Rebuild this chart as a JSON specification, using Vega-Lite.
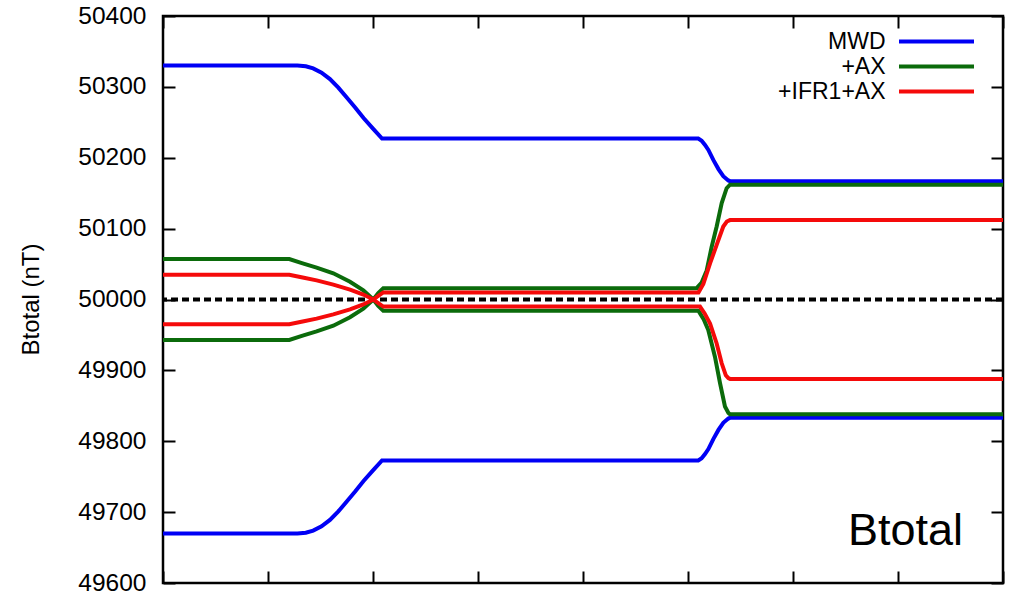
{
  "$schema": "https://vega.github.io/schema/vega-lite/v6.json",
  "autosize": {"type": "none"},
  "padding": {"left": 163, "top": 16, "right": 6, "bottom": 11},
  "width": 840,
  "height": 567,
  "background": "white",
  "config": {
    "view": {"stroke": "#000", "strokeWidth": 2.5},
    "font": "Liberation Sans",
    "axis": {"grid": false, "domain": false, "tickColor": "#000", "tickWidth": 2, "labelColor": "#000", "titleColor": "#000", "labelFont": "Liberation Sans", "titleFont": "Liberation Sans", "titleFontWeight": "normal"}
  },
  "data": {
    "values": [
      {"s": "MWD", "b": "u", "x": 0, "v": 50330},
      {"s": "MWD", "b": "u", "x": 1.28, "v": 50330},
      {"s": "MWD", "b": "u", "x": 1.36, "v": 50329},
      {"s": "MWD", "b": "u", "x": 1.43, "v": 50326},
      {"s": "MWD", "b": "u", "x": 1.51, "v": 50320},
      {"s": "MWD", "b": "u", "x": 1.59, "v": 50311},
      {"s": "MWD", "b": "u", "x": 1.67, "v": 50299},
      {"s": "MWD", "b": "u", "x": 1.75, "v": 50285},
      {"s": "MWD", "b": "u", "x": 1.83, "v": 50271},
      {"s": "MWD", "b": "u", "x": 1.91, "v": 50256},
      {"s": "MWD", "b": "u", "x": 2.0, "v": 50241},
      {"s": "MWD", "b": "u", "x": 2.086, "v": 50227},
      {"s": "MWD", "b": "u", "x": 5.098, "v": 50227},
      {"s": "MWD", "b": "u", "x": 5.13, "v": 50224},
      {"s": "MWD", "b": "u", "x": 5.162, "v": 50218},
      {"s": "MWD", "b": "u", "x": 5.194, "v": 50211},
      {"s": "MWD", "b": "u", "x": 5.241, "v": 50197},
      {"s": "MWD", "b": "u", "x": 5.29, "v": 50184},
      {"s": "MWD", "b": "u", "x": 5.336, "v": 50174},
      {"s": "MWD", "b": "u", "x": 5.384, "v": 50168},
      {"s": "MWD", "b": "u", "x": 5.4, "v": 50167},
      {"s": "MWD", "b": "u", "x": 8, "v": 50167},
      {"s": "MWD", "b": "l", "x": 0, "v": 49670},
      {"s": "MWD", "b": "l", "x": 1.28, "v": 49670},
      {"s": "MWD", "b": "l", "x": 1.36, "v": 49671},
      {"s": "MWD", "b": "l", "x": 1.43, "v": 49674},
      {"s": "MWD", "b": "l", "x": 1.51, "v": 49680},
      {"s": "MWD", "b": "l", "x": 1.59, "v": 49689},
      {"s": "MWD", "b": "l", "x": 1.67, "v": 49701},
      {"s": "MWD", "b": "l", "x": 1.75, "v": 49715},
      {"s": "MWD", "b": "l", "x": 1.83, "v": 49729},
      {"s": "MWD", "b": "l", "x": 1.91, "v": 49744},
      {"s": "MWD", "b": "l", "x": 2.0, "v": 49759},
      {"s": "MWD", "b": "l", "x": 2.086, "v": 49773},
      {"s": "MWD", "b": "l", "x": 5.098, "v": 49773},
      {"s": "MWD", "b": "l", "x": 5.13, "v": 49776},
      {"s": "MWD", "b": "l", "x": 5.162, "v": 49782},
      {"s": "MWD", "b": "l", "x": 5.194, "v": 49789},
      {"s": "MWD", "b": "l", "x": 5.241, "v": 49803},
      {"s": "MWD", "b": "l", "x": 5.29, "v": 49816},
      {"s": "MWD", "b": "l", "x": 5.336, "v": 49826},
      {"s": "MWD", "b": "l", "x": 5.384, "v": 49832},
      {"s": "MWD", "b": "l", "x": 5.4, "v": 49833},
      {"s": "MWD", "b": "l", "x": 8, "v": 49833},
      {"s": "+AX", "b": "u", "x": 0, "v": 50057},
      {"s": "+AX", "b": "u", "x": 1.203, "v": 50057},
      {"s": "+AX", "b": "u", "x": 1.33, "v": 50051},
      {"s": "+AX", "b": "u", "x": 1.463, "v": 50045},
      {"s": "+AX", "b": "u", "x": 1.622, "v": 50037},
      {"s": "+AX", "b": "u", "x": 1.781, "v": 50025},
      {"s": "+AX", "b": "u", "x": 1.908, "v": 50013},
      {"s": "+AX", "b": "u", "x": 2.003, "v": 50000},
      {"s": "+AX", "b": "u", "x": 2.05, "v": 50009},
      {"s": "+AX", "b": "u", "x": 2.098, "v": 50016},
      {"s": "+AX", "b": "u", "x": 5.083, "v": 50016},
      {"s": "+AX", "b": "u", "x": 5.13, "v": 50024},
      {"s": "+AX", "b": "u", "x": 5.178, "v": 50041},
      {"s": "+AX", "b": "u", "x": 5.225, "v": 50074},
      {"s": "+AX", "b": "u", "x": 5.273, "v": 50103},
      {"s": "+AX", "b": "u", "x": 5.321, "v": 50136},
      {"s": "+AX", "b": "u", "x": 5.368, "v": 50157},
      {"s": "+AX", "b": "u", "x": 5.4, "v": 50162},
      {"s": "+AX", "b": "u", "x": 8, "v": 50162},
      {"s": "+AX", "b": "l", "x": 0, "v": 49943},
      {"s": "+AX", "b": "l", "x": 1.203, "v": 49943},
      {"s": "+AX", "b": "l", "x": 1.33, "v": 49949},
      {"s": "+AX", "b": "l", "x": 1.463, "v": 49955},
      {"s": "+AX", "b": "l", "x": 1.622, "v": 49963},
      {"s": "+AX", "b": "l", "x": 1.781, "v": 49975},
      {"s": "+AX", "b": "l", "x": 1.908, "v": 49987},
      {"s": "+AX", "b": "l", "x": 2.003, "v": 50000},
      {"s": "+AX", "b": "l", "x": 2.05, "v": 49991},
      {"s": "+AX", "b": "l", "x": 2.098, "v": 49984},
      {"s": "+AX", "b": "l", "x": 5.1, "v": 49984},
      {"s": "+AX", "b": "l", "x": 5.15, "v": 49972},
      {"s": "+AX", "b": "l", "x": 5.193, "v": 49957},
      {"s": "+AX", "b": "l", "x": 5.257, "v": 49919},
      {"s": "+AX", "b": "l", "x": 5.305, "v": 49882},
      {"s": "+AX", "b": "l", "x": 5.352, "v": 49849},
      {"s": "+AX", "b": "l", "x": 5.385, "v": 49840},
      {"s": "+AX", "b": "l", "x": 5.4, "v": 49838},
      {"s": "+AX", "b": "l", "x": 8, "v": 49838},
      {"s": "+IFR1+AX", "b": "u", "x": 0, "v": 50035},
      {"s": "+IFR1+AX", "b": "u", "x": 1.203, "v": 50035},
      {"s": "+IFR1+AX", "b": "u", "x": 1.33, "v": 50031},
      {"s": "+IFR1+AX", "b": "u", "x": 1.463, "v": 50027},
      {"s": "+IFR1+AX", "b": "u", "x": 1.622, "v": 50021},
      {"s": "+IFR1+AX", "b": "u", "x": 1.781, "v": 50014},
      {"s": "+IFR1+AX", "b": "u", "x": 1.908, "v": 50007},
      {"s": "+IFR1+AX", "b": "u", "x": 2.003, "v": 50000},
      {"s": "+IFR1+AX", "b": "u", "x": 2.05, "v": 50005},
      {"s": "+IFR1+AX", "b": "u", "x": 2.098, "v": 50010},
      {"s": "+IFR1+AX", "b": "u", "x": 5.1, "v": 50010},
      {"s": "+IFR1+AX", "b": "u", "x": 5.146, "v": 50022},
      {"s": "+IFR1+AX", "b": "u", "x": 5.21, "v": 50051},
      {"s": "+IFR1+AX", "b": "u", "x": 5.273, "v": 50077},
      {"s": "+IFR1+AX", "b": "u", "x": 5.336, "v": 50103},
      {"s": "+IFR1+AX", "b": "u", "x": 5.37, "v": 50110},
      {"s": "+IFR1+AX", "b": "u", "x": 5.4, "v": 50112},
      {"s": "+IFR1+AX", "b": "u", "x": 8, "v": 50112},
      {"s": "+IFR1+AX", "b": "l", "x": 0, "v": 49965},
      {"s": "+IFR1+AX", "b": "l", "x": 1.203, "v": 49965},
      {"s": "+IFR1+AX", "b": "l", "x": 1.33, "v": 49969},
      {"s": "+IFR1+AX", "b": "l", "x": 1.463, "v": 49973},
      {"s": "+IFR1+AX", "b": "l", "x": 1.622, "v": 49979},
      {"s": "+IFR1+AX", "b": "l", "x": 1.781, "v": 49986},
      {"s": "+IFR1+AX", "b": "l", "x": 1.908, "v": 49993},
      {"s": "+IFR1+AX", "b": "l", "x": 2.003, "v": 50000},
      {"s": "+IFR1+AX", "b": "l", "x": 2.05, "v": 49995},
      {"s": "+IFR1+AX", "b": "l", "x": 2.098, "v": 49990},
      {"s": "+IFR1+AX", "b": "l", "x": 5.114, "v": 49990},
      {"s": "+IFR1+AX", "b": "l", "x": 5.16, "v": 49980},
      {"s": "+IFR1+AX", "b": "l", "x": 5.21, "v": 49966},
      {"s": "+IFR1+AX", "b": "l", "x": 5.273, "v": 49938},
      {"s": "+IFR1+AX", "b": "l", "x": 5.321, "v": 49910},
      {"s": "+IFR1+AX", "b": "l", "x": 5.36, "v": 49893},
      {"s": "+IFR1+AX", "b": "l", "x": 5.384, "v": 49889},
      {"s": "+IFR1+AX", "b": "l", "x": 5.4, "v": 49888},
      {"s": "+IFR1+AX", "b": "l", "x": 8, "v": 49888}
    ]
  },
  "layer": [
    {
      "data": {"values": [{"ref": 50000}]},
      "mark": {"type": "rule", "color": "#000", "strokeWidth": 4, "strokeDash": [7, 4]},
      "encoding": {
        "y": {"field": "ref", "type": "quantitative", "scale": {"domain": [49600, 50400], "nice": false, "zero": false},
          "axis": {"orient": "right", "labels": false, "title": null, "values": [49600, 49700, 49800, 49900, 50000, 50100, 50200, 50300, 50400], "tickSize": -12}}
      }
    },
    {
      "mark": {"type": "line", "strokeWidth": 4, "interpolate": "linear"},
      "encoding": {
        "x": {"field": "x", "type": "quantitative", "scale": {"domain": [0, 8], "nice": false, "zero": false},
          "axis": {"orient": "bottom", "labels": false, "title": null, "values": [0, 1, 2, 3, 4, 5, 6, 7, 8], "tickSize": -12}},
        "y": {"field": "v", "type": "quantitative",
          "axis": {"orient": "left", "title": "Btotal (nT)", "format": "d", "titleFontSize": 24, "labelFontSize": 24.5, "values": [49600, 49700, 49800, 49900, 50000, 50100, 50200, 50300, 50400], "tickSize": -12, "labelPadding": 29, "titleX": -132, "titleY": 283, "titleBaseline": "middle", "titleAngle": -90}},
        "color": {"field": "s", "type": "nominal",
          "scale": {"domain": ["MWD", "+AX", "+IFR1+AX"], "range": ["#0000f5", "#0b6b0b", "#f50a0a"]},
          "legend": {"title": null, "orient": "none", "legendX": 762, "legendY": 14, "symbolType": "M-7.5,0H7.5", "symbolSize": 100, "symbolStrokeWidth": 4, "labelFontSize": 23, "labelFont": "Liberation Sans", "labelColor": "#000", "labelAlign": "right", "labelOffset": -62.5, "rowPadding": 1, "padding": 0}},
        "detail": {"field": "b", "type": "nominal"}
      }
    },
    {
      "data": {"values": [{"tx": 7.62, "ty": 49654, "label": "Btotal"}]},
      "mark": {"type": "text", "fontSize": 45, "align": "right", "baseline": "alphabetic", "color": "#000", "font": "Liberation Sans"},
      "encoding": {
        "text": {"field": "label"},
        "x": {"field": "tx", "type": "quantitative",
          "axis": {"orient": "top", "labels": false, "title": null, "values": [0, 1, 2, 3, 4, 5, 6, 7, 8], "tickSize": -12}},
        "y": {"field": "ty", "type": "quantitative", "axis": null}
      }
    }
  ]
}
